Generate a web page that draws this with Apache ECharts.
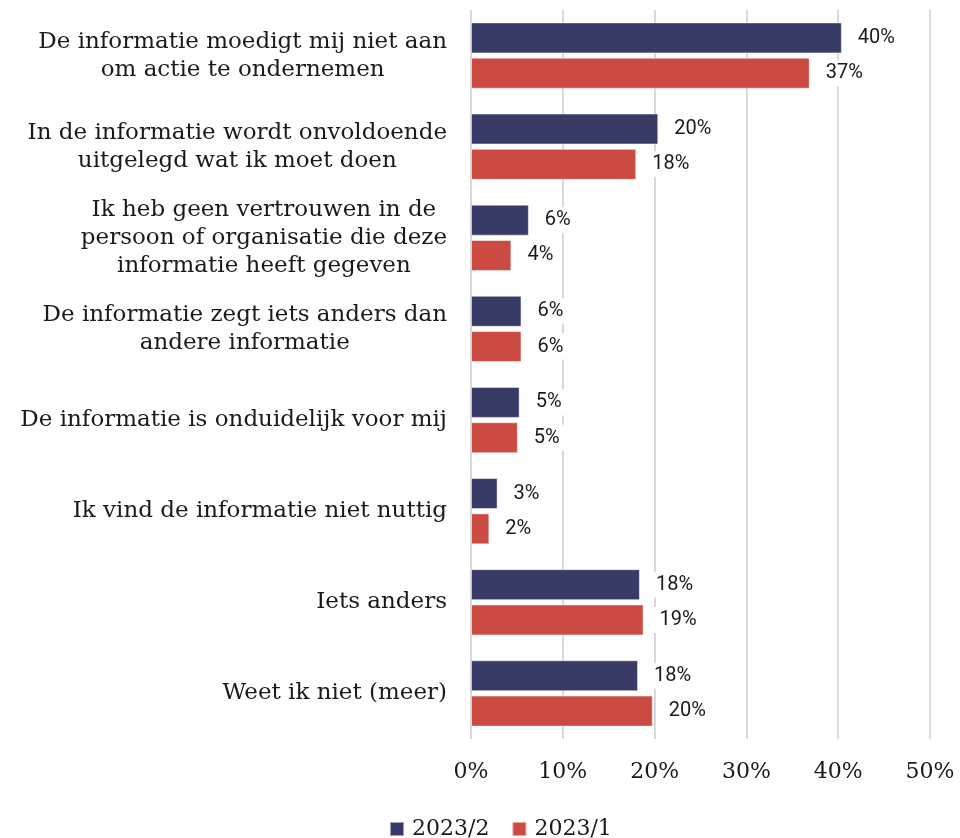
<!DOCTYPE html>
<html>
<head>
<meta charset="utf-8">
<script src="https://cdn.jsdelivr.net/npm/echarts@6/dist/echarts.min.js"></script>
<style>
  html, body { margin: 0; padding: 0; background: #fff; }
  #chart { width: 960px; height: 838px; }
</style>
</head>
<body>
<div id="chart"></div>
<script>
  // categories (top to bottom)
  var categories = [
    'De informatie moedigt mij niet aan\nom actie te ondernemen',
    'In de informatie wordt onvoldoende\nuitgelegd wat ik moet doen',
    'Ik heb geen vertrouwen in de\npersoon of organisatie die deze\ninformatie heeft gegeven',
    'De informatie zegt iets anders dan\nandere informatie',
    'De informatie is onduidelijk voor mij',
    'Ik vind de informatie niet nuttig',
    'Iets anders',
    'Weet ik niet (meer)'
  ];
  var seriesNames = ['2023/2', '2023/1'];
  var values2023_2 = [40.4, 20.4, 6.3, 5.5, 5.3, 2.9, 18.4, 18.2];
  var values2023_1 = [36.9, 18.0, 4.4, 5.5, 5.1, 2.0, 18.8, 19.8];
  var colors = ['#383b66', '#cb4b43'];

  var myChart = echarts.init(document.getElementById('chart'));

  function barSeries(name, data, color) {
    return {
      name: name,
      type: 'bar',
      data: data,
      barWidth: 31,
      barGap: '14%',
      itemStyle: { color: color, borderColor: 'rgba(255,255,255,0.5)', borderWidth: 1 },
      label: {
        show: true,
        position: 'right',
        distance: 10,
        color: '#1a1a1a',
        fontFamily: 'Roboto',
        fontSize: 20,
        backgroundColor: '#fff',
        padding: [3, 6],
        formatter: function (p) { return Math.round(p.value) + '%'; }
      }
    };
  }

  myChart.setOption({
    animation: false,
    color: colors,
    grid: { left: 471, right: 30, top: 10, height: 729 },
    legend: {
      top: 813,
      left: 384,
      itemWidth: 14,
      itemHeight: 14,
      itemGap: 22,
      icon: 'rect',
      textStyle: { fontFamily: 'DejaVu Serif', fontSize: 22, color: '#1a1a1a', padding: [0, 0, 0, 3] },
      data: seriesNames
    },
    xAxis: {
      type: 'value',
      min: 0,
      max: 50,
      interval: 10,
      axisLine: { show: false },
      axisTick: { show: false },
      splitLine: { lineStyle: { color: '#d9d9d9', width: 2 } },
      axisLabel: {
        margin: 22,
        fontFamily: 'DejaVu Serif',
        fontSize: 22,
        color: '#1a1a1a',
        formatter: '{value}%'
      }
    },
    yAxis: {
      type: 'category',
      inverse: true,
      data: categories,
      axisLine: { show: false },
      axisTick: { show: false },
      axisLabel: {
        margin: 24,
        formatter: function (v) {
          return v.split('\n').map(function (l) { return '{c|' + l + '}'; }).join('\n');
        },
        rich: {
          c: {
            align: 'center',
            fontFamily: 'DejaVu Serif',
            fontSize: 23,
            lineHeight: 28,
            color: '#1a1a1a'
          }
        }
      }
    },
    series: [
      barSeries(seriesNames[0], values2023_2, colors[0]),
      barSeries(seriesNames[1], values2023_1, colors[1])
    ]
  });
</script>
</body>
</html>
